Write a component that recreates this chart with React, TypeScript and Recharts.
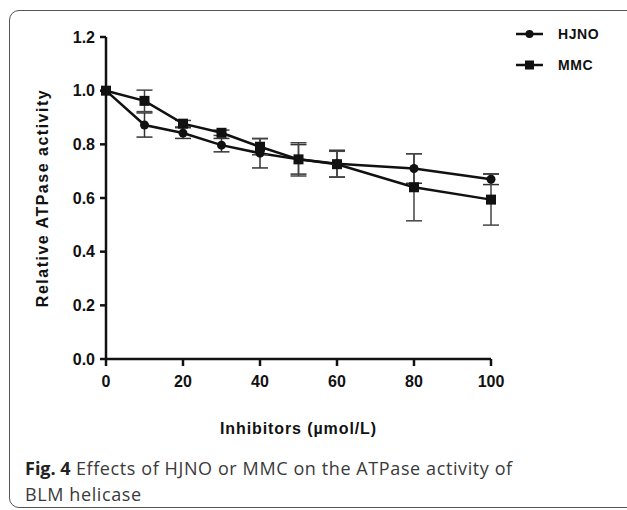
import React from "react";
import { LineChart, Line, XAxis, YAxis, ErrorBar, Legend } from "recharts";

// inhibitor concentrations (µmol/L)
const doses = [0, 10, 20, 30, 40, 50, 60, 80, 100];
// relative ATPase activity, mean and error
const hjno = [1.0, 0.872, 0.842, 0.797, 0.767, 0.744, 0.728, 0.71, 0.67];
const hjnoErr = [0, 0.045, 0.02, 0.025, 0.055, 0.055, 0.05, 0.055, 0.02];
const mmc = [1.0, 0.962, 0.877, 0.843, 0.791, 0.744, 0.726, 0.64, 0.594];
const mmcErr = [0, 0.04, 0.012, 0.01, 0.03, 0.062, 0.048, 0.125, 0.095];

const xTicks = [0, 20, 40, 60, 80, 100];
const yTicks = [0, 0.2, 0.4, 0.6, 0.8, 1.0, 1.2];
const seriesNames = ["HJNO", "MMC"];

const data = doses.map((d, i) => ({
  dose: d,
  hjno: hjno[i],
  hjnoErr: hjnoErr[i],
  mmc: mmc[i],
  mmcErr: mmcErr[i],
}));

const INK = "#111";
const FONT = "'Liberation Sans', Arial, sans-serif";

const CircleDot = (p: any) => {
  if (p.cx == null || p.cy == null) return null;
  return <circle key={p.key} cx={p.cx} cy={p.cy} r={4.5} fill={INK} stroke="none" />;
};

const SquareDot = (p: any) => {
  if (p.cx == null || p.cy == null) return null;
  return <rect key={p.key} x={p.cx - 5} y={p.cy - 5} width={10} height={10} fill={INK} stroke="none" />;
};

const LegendBox = () => (
  <div style={{ fontFamily: FONT, fontWeight: 700, fontSize: 14, color: INK }}>
    {seriesNames.map((name, i) => (
      <div key={name} style={{ display: "flex", alignItems: "center", height: 31 }}>
        <svg width={30} height={12} style={{ marginRight: 13 }}>
          <line x1={1} y1={6} x2={28} y2={6} stroke={INK} strokeWidth={2.5} />
          {i === 0 ? (
            <circle cx={14.5} cy={6} r={4} fill={INK} />
          ) : (
            <rect x={10} y={1.5} width={9} height={9} fill={INK} />
          )}
        </svg>
        <span style={{ letterSpacing: 0.6 }}>{name}</span>
      </div>
    ))}
  </div>
);

export default function App() {
  const tickStyle = { fontFamily: FONT, fontWeight: 700, fontSize: 16, fill: INK };
  return (
    <div style={{ position: "absolute", left: 0, top: 0, width: 627, height: 510, background: "#fff", overflow: "hidden" }}>
      <div
        style={{
          position: "absolute",
          left: 9,
          top: 10,
          width: 640,
          height: 498,
          boxSizing: "border-box",
          border: "1.5px solid #555",
          borderRadius: 10,
        }}
      />
      <div style={{ position: "absolute", left: 0, top: 0 }}>
        <LineChart width={627} height={445} data={data} margin={{ top: 37, right: 136, left: 46, bottom: 0 }}>
          <XAxis
            dataKey="dose"
            type="number"
            domain={[0, 100]}
            ticks={xTicks}
            height={86}
            tick={tickStyle}
            tickSize={7}
            tickMargin={10}
            axisLine={{ stroke: INK, strokeWidth: 2.5 }}
            tickLine={{ stroke: INK, strokeWidth: 2.5 }}
            label={{
              value: "Inhibitors (µmol/L)",
              position: "insideBottom",
              offset: 11,
              style: { fontFamily: FONT, fontWeight: 700, fontSize: 16, fill: INK, letterSpacing: 0.9 },
            }}
          />
          <YAxis
            type="number"
            domain={[0, 1.2]}
            ticks={yTicks}
            width={60}
            tick={tickStyle}
            tickFormatter={(v: number) => v.toFixed(1)}
            tickSize={6}
            tickMargin={5}
            axisLine={{ stroke: INK, strokeWidth: 2.5 }}
            tickLine={{ stroke: INK, strokeWidth: 2.5 }}
            label={{
              value: "Relative ATPase activity",
              angle: -90,
              position: "insideLeft",
              offset: -4,
              style: { textAnchor: "middle", fontFamily: FONT, fontWeight: 700, fontSize: 16, fill: INK, letterSpacing: 1.5 },
            }}
          />
          <Legend
            layout="vertical"
            align="center"
            verticalAlign="middle"
            content={() => <LegendBox />}
            wrapperStyle={{ top: 18, left: 515, width: 100 }}
          />
          <Line
            dataKey="hjno"
            name="HJNO"
            stroke={INK}
            strokeWidth={2.5}
            dot={CircleDot}
            activeDot={false}
            isAnimationActive={false}
          >
            <ErrorBar dataKey="hjnoErr" width={8} strokeWidth={1.5} stroke="#333" direction="y" />
          </Line>
          <Line
            dataKey="mmc"
            name="MMC"
            stroke={INK}
            strokeWidth={2.5}
            dot={SquareDot}
            activeDot={false}
            isAnimationActive={false}
          >
            <ErrorBar dataKey="mmcErr" width={8} strokeWidth={1.5} stroke="#444" direction="y" />
          </Line>
        </LineChart>
      </div>
      <div
        style={{
          position: "absolute",
          left: 25,
          top: 455,
          width: 520,
          fontFamily: "'Open Sans', sans-serif",
          fontSize: 18,
          letterSpacing: 0.6,
          lineHeight: "26px",
          color: "#3a3a3a",
          whiteSpace: "nowrap",
        }}
      >
        <div>
          <span style={{ fontWeight: 700, color: "#222", letterSpacing: 0 }}>Fig. 4</span>
          <span>{" Effects of HJNO or MMC on the ATPase activity of"}</span>
        </div>
        <div>BLM helicase</div>
      </div>
    </div>
  );
}
